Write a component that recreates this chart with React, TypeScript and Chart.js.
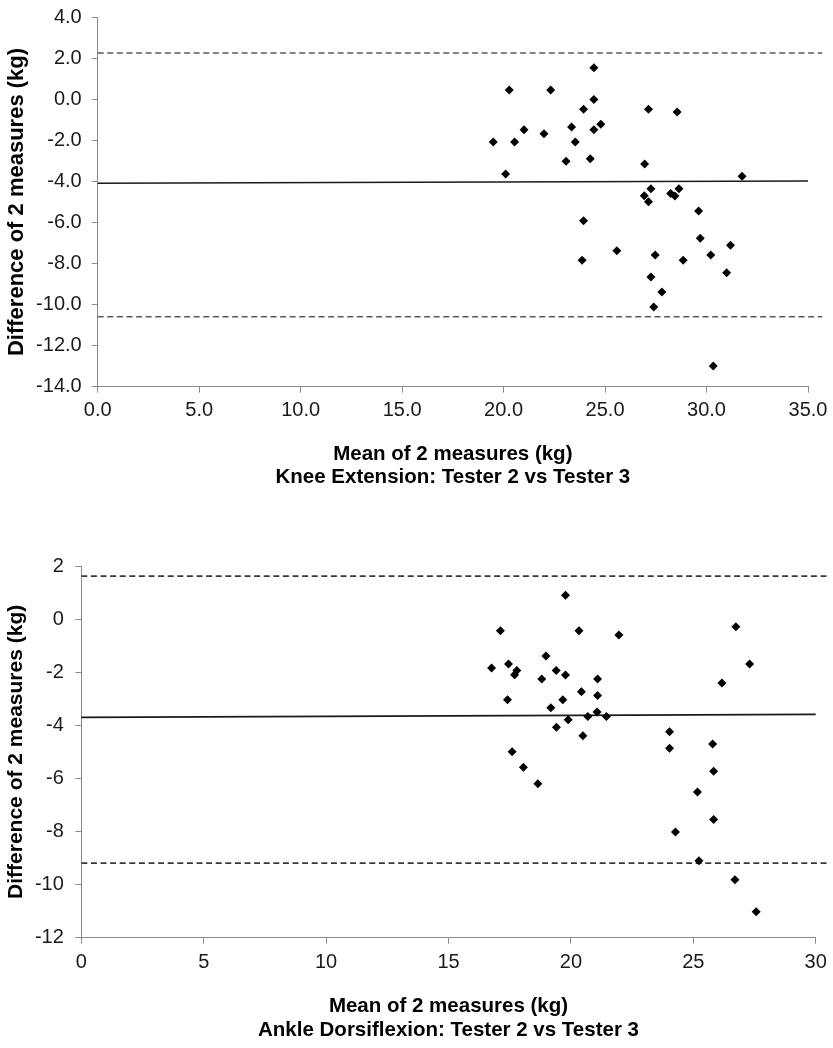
import { useEffect, useRef } from "react";
import { Chart, registerables } from "chart.js";

Chart.register(...registerables);

// ---- Knee Extension: Tester 2 vs Tester 3 ----
const kneeMeans = [
  24.45, 20.28, 22.32, 24.45, 23.94, 27.14, 28.55, 21.01, 21.99, 23.35,
  24.45, 24.79, 19.49, 20.54, 23.53, 23.08, 24.27, 26.95, 20.10, 31.75,
  27.26, 28.64, 26.93, 27.14, 28.23, 28.44, 29.61, 23.94, 29.69, 31.18,
  25.58, 27.47, 30.21, 23.87, 28.85, 30.99, 27.26, 27.80, 27.40, 30.33,
];
const kneeDiffs = [
  1.54, 0.46, 0.46, 0.0, -0.48, -0.48, -0.62, -1.48, -1.67, -1.35,
  -1.48, -1.21, -2.08, -2.08, -2.08, -3.02, -2.89, -3.15, -3.64, -3.75,
  -4.35, -4.35, -4.69, -4.99, -4.58, -4.71, -5.44, -5.91, -6.77, -7.11,
  -7.37, -7.58, -7.58, -7.84, -7.84, -8.45, -8.66, -9.39, -10.12, -12.99,
];
const kneeBiasX = [0, 35];
const kneeBiasY = [-4.09, -3.98];
const kneeLimitsX = [0, 35.7];
const kneeUpperLimit = 2.26;
const kneeLowerLimit = -10.59;
const kneeXTicks = [0, 5, 10, 15, 20, 25, 30, 35];
const kneeYTicks = [4, 2, 0, -2, -4, -6, -8, -10, -12, -14];
const kneeXTitle = ["Mean of 2 measures (kg)", "Knee Extension: Tester 2 vs Tester 3"];

// ---- Ankle Dorsiflexion: Tester 2 vs Tester 3 ----
const ankleMeans = [
  19.78, 17.12, 20.33, 26.74, 21.96, 27.30, 16.76, 17.45, 18.98, 17.79,
  17.70, 19.40, 19.78, 18.81, 21.09, 26.17, 20.43, 21.09, 17.41, 19.67,
  19.18, 21.07, 20.69, 21.45, 19.89, 19.41, 20.49, 24.03, 24.03, 25.79,
  17.60, 25.83, 18.06, 18.65, 25.17, 25.83, 24.27, 25.23, 26.70, 27.57,
];
const ankleDiffs = [
  0.90, -0.44, -0.44, -0.29, -0.60, -1.69, -1.84, -1.69, -1.39, -1.94,
  -2.10, -1.94, -2.11, -2.26, -2.26, -2.41, -2.74, -2.88, -3.04, -3.04,
  -3.34, -3.50, -3.67, -3.67, -3.79, -4.07, -4.39, -4.24, -4.86, -4.70,
  -5.00, -5.73, -5.58, -6.20, -6.51, -7.55, -8.02, -9.10, -9.82, -11.02,
];
const ankleBiasX = [0, 30];
const ankleBiasY = [-3.70, -3.59];
const ankleLimitsX = [0, 30.45];
const ankleUpperLimit = 1.62;
const ankleLowerLimit = -9.19;
const ankleXTicks = [0, 5, 10, 15, 20, 25, 30];
const ankleYTicks = [2, 0, -2, -4, -6, -8, -10, -12];
const ankleXTitle = ["Mean of 2 measures (kg)", "Ankle Dorsiflexion: Tester 2 vs Tester 3"];

const yTitle = "Difference of 2 measures (kg)";

const FONT = "'Liberation Sans', Arial, Helvetica, sans-serif";
const AXIS_GRAY = "#8a8a8a";

type Layout = {
  height: number;
  padTop: number;
  padRight: number;
  padBottom: number;
  yWidth: number;
  xHeight: number;
  xTickPad: number;
  yTickPad: number;
  xTitleSize: number;
  xTitleLH: number;
  yTitleSize: number;
  yTitlePad: number;
  dashColor: string;
  dashWidth: number;
  decimals: number;
};

function buildConfig(
  means: number[],
  diffs: number[],
  biasX: number[],
  biasY: number[],
  limX: number[],
  upper: number,
  lower: number,
  xTicks: number[],
  yTicks: number[],
  xTitle: string[],
  L: Layout
): any {
  const points = means.map((m, i) => ({ x: m, y: diffs[i] }));
  const fmt = (v: number) => (L.decimals ? Number(v).toFixed(L.decimals) : String(v));
  const lineBase = {
    showLine: true,
    pointRadius: 0,
    pointHoverRadius: 0,
    fill: false,
    order: 1,
    clip: false,
  };
  return {
    type: "scatter",
    data: {
      datasets: [
        {
          data: points,
          pointStyle: "rectRot",
          pointRadius: 4.5,
          pointHoverRadius: 4.5,
          backgroundColor: "#000",
          borderColor: "#000",
          borderWidth: 0,
          order: 0,
        },
        {
          ...lineBase,
          data: [
            { x: biasX[0], y: biasY[0] },
            { x: biasX[1], y: biasY[1] },
          ],
          borderColor: "#1a1a1a",
          borderWidth: 1.6,
        },
        {
          ...lineBase,
          data: [
            { x: limX[0], y: upper },
            { x: limX[1], y: upper },
          ],
          borderColor: L.dashColor,
          borderWidth: L.dashWidth,
          borderDash: [6, 3.6],
        },
        {
          ...lineBase,
          data: [
            { x: limX[0], y: lower },
            { x: limX[1], y: lower },
          ],
          borderColor: L.dashColor,
          borderWidth: L.dashWidth,
          borderDash: [6, 3.6],
        },
      ],
    },
    options: {
      responsive: false,
      animation: false,
      devicePixelRatio: 1,
      events: [],
      layout: {
        autoPadding: false,
        padding: { top: L.padTop, right: L.padRight, bottom: L.padBottom, left: 0 },
      },
      plugins: {
        legend: { display: false },
        tooltip: { enabled: false },
        title: { display: false },
      },
      scales: {
        x: {
          type: "linear",
          min: xTicks[0],
          max: xTicks[xTicks.length - 1],
          afterFit: (s: any) => {
            s.height = L.xHeight;
            s.paddingLeft = 0;
            s.paddingRight = 0;
          },
          afterBuildTicks: (s: any) => {
            s.ticks = xTicks.map((v) => ({ value: v }));
          },
          ticks: {
            callback: (v: any) => fmt(v),
            font: { family: FONT, size: 20 },
            color: "#1a1a1a",
            padding: L.xTickPad,
            maxRotation: 0,
            autoSkip: false,
          },
          grid: {
            display: true,
            drawOnChartArea: false,
            drawTicks: true,
            tickLength: 6,
            color: AXIS_GRAY,
            tickColor: AXIS_GRAY,
            lineWidth: 1,
          },
          border: { display: true, color: AXIS_GRAY, width: 1 },
          title: {
            display: true,
            text: xTitle,
            color: "#000",
            font: { family: FONT, size: L.xTitleSize, weight: "bold", lineHeight: L.xTitleLH + "px" },
            padding: { top: 0, bottom: 0 },
          },
        },
        y: {
          type: "linear",
          min: yTicks[yTicks.length - 1],
          max: yTicks[0],
          afterFit: (s: any) => {
            s.width = L.yWidth;
            s.paddingTop = 0;
            s.paddingBottom = 0;
          },
          afterBuildTicks: (s: any) => {
            s.ticks = yTicks.slice().reverse().map((v) => ({ value: v }));
          },
          ticks: {
            callback: (v: any) => fmt(v),
            font: { family: FONT, size: 20 },
            color: "#1a1a1a",
            padding: L.yTickPad,
            autoSkip: false,
          },
          grid: {
            display: true,
            drawOnChartArea: false,
            drawTicks: true,
            tickLength: 6,
            color: AXIS_GRAY,
            tickColor: AXIS_GRAY,
            lineWidth: 1,
          },
          border: { display: true, color: AXIS_GRAY, width: 1 },
          title: {
            display: true,
            text: yTitle,
            color: "#000",
            font: { family: FONT, size: L.yTitleSize, weight: "bold", lineHeight: 1.15 },
            padding: { top: L.yTitlePad, bottom: 0 },
          },
        },
      },
    },
  };
}

const kneeLayout: Layout = {
  height: 500,
  padTop: 17.3,
  padRight: 25,
  padBottom: 11.5,
  yWidth: 97.7,
  xHeight: 101.8,
  xTickPad: 6,
  yTickPad: 10,
  xTitleSize: 20.5,
  xTitleLH: 23,
  yTitleSize: 22,
  yTitlePad: 4,
  dashColor: "#5a5a5a",
  dashWidth: 1.6,
  decimals: 1,
};

const ankleLayout: Layout = {
  height: 548,
  padTop: 66,
  padRight: 17.3,
  padBottom: 6,
  yWidth: 81.3,
  xHeight: 104.3,
  xTickPad: 7,
  yTickPad: 11.5,
  xTitleSize: 20.5,
  xTitleLH: 24,
  yTitleSize: 21,
  yTitlePad: 4.5,
  dashColor: "#3a3a3a",
  dashWidth: 1.8,
  decimals: 0,
};

function ChartCanvas({ config, width, height, top }: { config: any; width: number; height: number; top: number }) {
  const ref = useRef<HTMLCanvasElement | null>(null);
  useEffect(() => {
    if (!ref.current) return;
    const chart = new Chart(ref.current, config);
    return () => chart.destroy();
  }, [config]);
  return (
    <div style={{ position: "absolute", left: 0, top, width, height }}>
      <canvas ref={ref} width={width} height={height} style={{ display: "block", width, height }} />
    </div>
  );
}

const kneeConfig = buildConfig(
  kneeMeans, kneeDiffs, kneeBiasX, kneeBiasY, kneeLimitsX, kneeUpperLimit, kneeLowerLimit,
  kneeXTicks, kneeYTicks, kneeXTitle, kneeLayout
);
const ankleConfig = buildConfig(
  ankleMeans, ankleDiffs, ankleBiasX, ankleBiasY, ankleLimitsX, ankleUpperLimit, ankleLowerLimit,
  ankleXTicks, ankleYTicks, ankleXTitle, ankleLayout
);

export default function App() {
  return (
    <div style={{ position: "absolute", left: 0, top: 0, width: 833, height: 1048, background: "#fff", overflow: "hidden" }}>
      <ChartCanvas config={kneeConfig} width={833} height={kneeLayout.height} top={0} />
      <ChartCanvas config={ankleConfig} width={833} height={ankleLayout.height} top={500} />
    </div>
  );
}
